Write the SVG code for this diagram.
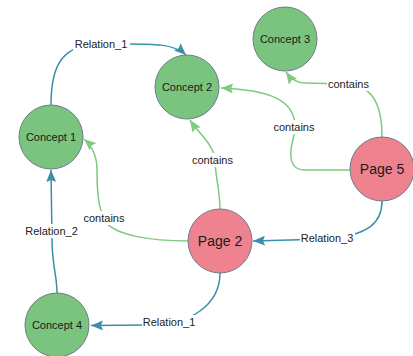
<svg xmlns="http://www.w3.org/2000/svg" width="413" height="356" viewBox="0 0 413 356">
<style>
.bg{fill:#ffffff}
.rel{fill:none;stroke:#3a90a8;stroke-width:1.5}
.con{fill:none;stroke:#7dca80;stroke-width:1.5}
.lbg{fill:#ffffff}
.lbl{font-family:"Liberation Sans",Arial,sans-serif;font-size:11px;fill:#222;text-anchor:middle;dominant-baseline:central}
.concept{fill:#7bc47f;stroke:#6e7b8b;stroke-width:1}
.page{fill:#ee828e;stroke:#6e7b8b;stroke-width:1}
.nt{font-family:"Liberation Sans",Arial,sans-serif;font-size:11px;fill:#1a1a1a;text-anchor:middle;dominant-baseline:central}
.pt{font-family:"Liberation Sans",Arial,sans-serif;font-size:14px;fill:#1a1a1a;text-anchor:middle;dominant-baseline:central}
</style>
<defs>
<marker id="aRel" markerUnits="userSpaceOnUse" markerWidth="13" markerHeight="10" refX="12" refY="5" orient="auto">
<path d="M0,0 L12,5 L0,10 L2,5 z" fill="#3a90a8"/>
</marker>
<marker id="aCon" markerUnits="userSpaceOnUse" markerWidth="13" markerHeight="10" refX="12" refY="5" orient="auto">
<path d="M0,0 L12,5 L0,10 L2,5 z" fill="#7dca80"/>
</marker>
</defs>
<rect class="bg" x="0" y="0" width="413" height="356"/>
<g id="connectors">
<path class="rel" marker-end="url(#aRel)" d="M51,105 C51,65 62,44 101,44 C150,44 172,42 186,55"/>
<path class="rel" marker-end="url(#aRel)" d="M57,293 C57,275 52,265 52,240 L51,170"/>
<path class="rel" marker-end="url(#aRel)" d="M220,273 C220,305 190,325 150,325 L91,325.5"/>
<path class="rel" marker-end="url(#aRel)" d="M382,201 C382,222 370,235 327,239 L253,241"/>
<path class="con" marker-end="url(#aCon)" d="M188,241 C150,241 115,235 106,222 C98,210 97,190 97,170 C97,155 92,146 84,139"/>
<path class="con" marker-end="url(#aCon)" d="M220,209 C220,190 215,175 215,160 C214,145 200,135 190,120"/>
<path class="con" marker-end="url(#aCon)" d="M350,170 L305,170 C292,170 290,160 291,150 C292,140 295,135 295,127 C295,100 270,90 221,88"/>
<path class="con" marker-end="url(#aCon)" d="M382,137 C382,100 370,85 345,84 L305,83 C297,83 291,79 286,72"/>
<rect class="lbg" x="73" y="37" width="57" height="14"/>
<text class="lbl" x="101" y="44">Relation_1</text>
<rect class="lbg" x="24" y="224" width="55" height="14"/>
<text class="lbl" x="51.5" y="231">Relation_2</text>
<rect class="lbg" x="142" y="315" width="55" height="14"/>
<text class="lbl" x="169" y="322">Relation_1</text>
<rect class="lbg" x="300" y="231" width="55" height="14"/>
<text class="lbl" x="327" y="238">Relation_3</text>
<rect class="lbg" x="83" y="211" width="43" height="14"/>
<text class="lbl" x="104" y="218">contains</text>
<rect class="lbg" x="191" y="153" width="43" height="14"/>
<text class="lbl" x="212.5" y="160">contains</text>
<rect class="lbg" x="273" y="120" width="43" height="14"/>
<text class="lbl" x="294" y="127">contains</text>
<rect class="lbg" x="327" y="77" width="43" height="14"/>
<text class="lbl" x="348.5" y="84">contains</text>
</g>
<g id="concept1"><circle class="concept" cx="51" cy="137" r="32"/><text class="nt" x="51" y="137">Concept 1</text></g>
<g id="concept2"><circle class="concept" cx="187" cy="87" r="32"/><text class="nt" x="187" y="87">Concept 2</text></g>
<g id="concept3"><circle class="concept" cx="285" cy="39" r="32"/><text class="nt" x="285" y="39">Concept 3</text></g>
<g id="concept4"><circle class="concept" cx="57" cy="325" r="32"/><text class="nt" x="57" y="325">Concept 4</text></g>
<g id="page2"><circle class="page" cx="220" cy="241" r="32"/><text class="pt" x="220" y="241">Page 2</text></g>
<g id="page5"><circle class="page" cx="382" cy="169" r="32"/><text class="pt" x="382" y="169">Page 5</text></g>
</svg>
